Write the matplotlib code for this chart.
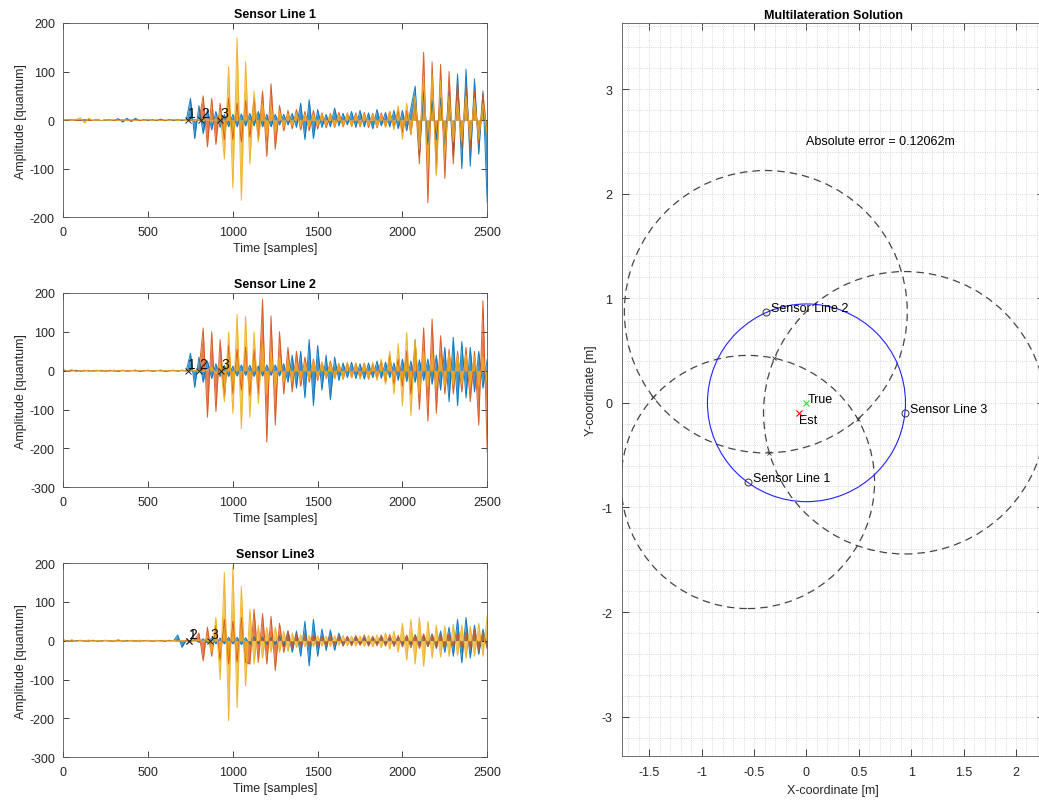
import numpy as np
import matplotlib
matplotlib.use('Agg')
import matplotlib.pyplot as plt
from matplotlib.patches import Circle

plt.rcParams['font.family'] = ['Liberation Sans', 'DejaVu Sans']
plt.rcParams['axes.unicode_minus'] = False

# sample positions of the traces (every 25 samples)
samples = np.arange(0, 2501, 25)

# Sensor Line 1 (blue, orange, yellow channels)
s1_blue = [0, 1, -1, 1, -1, 0, 1, -1, 1, -1,
           1, -1, 0, 3, -4, 4, -3, 4, -1, 1,
           -1, 1, -1, 2, -1, 1, -1, 1, -1, 0,
           45, -38, 30, -28, 22, -20, 18, -15, 12, -14,
           12, -14, 13, -12, 14, -12, 18, -14, 12, -14,
           12, -10, 12, -10, 14, -15, 35, -40, 42, -38,
           22, -15, 12, -14, 25, -12, 14, -10, 18, -15,
           20, -14, 15, -18, 22, -12, 16, -14, 20, -18,
           20, -22, 25, 70, -75, 60, -50, 40, -40, 45,
           -55, 60, -75, 95, -100, 105, -95, 85, -70, 60, -170]
s1_orange = [0, 0, 1, -1, 0, 1, -1, 0, 1, -1,
             0, 1, -1, 0, 1, -1, 0, 1, -1, 0,
             1, -1, 0, 1, -1, 0, 1, -1, 1, 0,
             -1, 1, 0, 50, -55, 45, -50, 35, -40, 45,
             -40, 35, -45, 40, -35, 45, -40, 60, -75, 75,
             -60, 30, -22, 20, -18, 22, -20, 18, -22, 20,
             -18, 15, -16, 14, -15, 16, -14, 15, -13, 15,
             -14, 16, -15, 14, -16, 15, -14, 18, -15, 20,
             -25, 20, -30, 50, -90, 140, -170, 120, -110, 115,
             -120, 100, -90, 80, -60, 70, -60, 60, -50, 55, -30]
s1_yellow = [0, 1, -1, 1, 5, -6, 4, -1, 1, -1,
             1, -1, 1, -1, 1, -1, 1, -1, 1, -1,
             1, -1, 1, -1, 1, -1, 1, -1, 1, -1,
             1, -1, 2, -2, 3, -4, 3, 15, -80, 110,
             -140, 170, -165, 120, -90, 60, -45, 35, -35, 30,
             -25, 18, -15, 14, -12, 15, -13, 12, -14, 12,
             -12, 13, -11, 12, -13, 11, -12, 13, -12, 11,
             -12, 13, -11, 12, -14, 12, -15, 18, -20, 30,
             -40, 35, -30, 50, -60, 90, -100, 95, -115, 80,
             -70, 50, -45, 40, -45, 50, -40, 45, -40, 35, -30]

# Sensor Line 2
s2_blue = [1, -1, 0, 1, -1, 0, 1, -1, 0, 1,
           -1, 0, 1, -2, 1, -1, 0, 1, -1, 0,
           1, -1, 0, 1, -1, 0, 1, -1, 1, 0,
           45, -43, 35, -30, 25, -20, 18, -15, 14, -15,
           12, -14, 15, -12, 14, -15, 12, -14, 15, -12,
           15, -14, 18, -30, 40, -45, 50, -70, 80, -90,
           65, -50, 40, -75, 35, -25, 20, -18, 22, -20,
           18, -22, 20, -18, 25, -20, 22, -18, 20, -25,
           30, -28, 25, -30, 28, -25, 30, -35, 40, -50,
           60, -80, 86, -90, 75, -70, 60, -55, 50, -45, 30]
s2_orange = [3, -2, 1, -1, 0, 1, -1, 0, 1, -1,
             0, 1, -1, 0, 1, -1, 0, 1, -1, 0,
             1, -1, 0, 1, -1, 0, 1, -1, 1, 0,
             -1, 1, 0, 110, -120, 100, -105, 80, -70, 65,
             -60, 55, -50, 60, -65, 55, -60, 183, -184, 141,
             -140, 100, -60, 60, -55, 50, -40, 35, -30, 30,
             -25, 22, -20, 25, -20, 18, -22, 20, -18, 20,
             -18, 20, -22, 18, -20, 25, -30, 40, -35, 30,
             -40, 50, -60, 80, -100, 110, -130, 133, -110, 90,
             -60, 55, -60, 50, -55, 60, -80, 50, -140, 180, -210]
s2_yellow = [2, -1, 3, -3, 1, -1, 1, -1, 1, -1,
             1, -1, 1, -1, 1, -1, 1, -1, 1, -1,
             1, -1, 1, -1, 1, -1, 1, -1, 1, -1,
             1, -1, 1, -2, 2, 8, -8, 20, -80, 100,
             -110, 145, -150, 140, -120, 100, -85, 70, -60, 50,
             -45, 35, -30, 28, -25, 22, -25, 20, -22, 25,
             -20, 22, -18, 20, -22, 18, -20, 22, -18, 20,
             -22, 18, -20, 22, -25, 30, -35, 50, -60, 70,
             -90, 99, -116, 80, -60, 50, -40, 45, -40, 35,
             -40, 45, -38, 40, -35, 42, -40, 38, -40, 35, -30]

# Sensor Line 3
s3_blue = [0, 1, -1, 0, 1, -1, 0, 1, -1, 0,
           1, -1, 0, 2, -1, 1, 0, -1, 1, 0,
           1, -1, 0, 1, -1, 1, 0, 15, -17, 2,
           -2, 3, -4, 5, -6, 7, -8, 7, -8, 9,
           -8, 9, -10, 8, -9, 10, -8, 9, -10, 8,
           -10, 12, -15, 25, -30, 25, -40, 50, -65, 55,
           -40, 30, -25, 28, -25, 20, -12, 10, -8, 10,
           -10, 8, -10, 9, -8, 10, -9, 8, -10, 9,
           -10, 12, -10, 15, -12, 14, -15, 18, -20, 25,
           -30, 35, -40, 55, -57, 60, -45, 40, -35, 30, -20]
s3_orange = [3, -2, 1, -1, 1, 0, -1, 1, 0, -1,
             1, 0, -1, 1, 0, -1, 1, 0, -1, 1,
             0, -1, 1, 0, -1, 1, 0, -1, 1, 0,
             -1, 2, 20, -52, 35, -40, 40, -50, 55, -60,
             50, -55, 60, -55, -60, 81, -56, 70, -60, 63,
             -77, 45, -30, 25, -20, 18, -15, 16, -14, 15,
             -14, 12, -13, 14, -12, 13, -14, 12, -13, 14,
             -12, 15, -14, 12, -13, 15, -14, 16, -15, 14,
             -16, 15, -18, 16, -20, 18, -15, 16, -14, 15,
             -16, 18, -15, 20, -18, 22, -20, 30, -25, 20, -18]
s3_yellow = [2, -2, 3, -2, 1, -1, 2, -1, 1, -1,
             1, -1, 1, -1, 1, -1, 1, -1, 1, -1,
             1, -1, 1, -1, 1, -1, 1, -1, 1, -1,
             1, -1, 2, -3, 10, -30, 60, -100, 176, -206,
             191, -172, 140, -116, 80, -60, 40, -45, 35, -30,
             35, -30, 25, -28, 20, -18, 15, -16, 14, -15,
             13, -14, 12, -15, 13, -12, 14, -13, 12, -14,
             13, -15, 14, -16, 15, -18, 20, -22, 25, -30,
             45, -50, 55, -60, 60, -66, 50, -45, 40, -42,
             38, -40, 42, -38, 40, -45, 38, -40, 45, -40, 65]

# picked onsets (samples) per sensor line
onsets = [[737, 812, 924], [733, 802, 930], [741, 741, 865]]
panel_titles = ['Sensor Line 1', 'Sensor Line 2', 'Sensor Line3']
panel_ylims = [(-200, 200), (-300, 200), (-300, 200)]
traces = [[s1_blue, s1_orange, s1_yellow],
          [s2_blue, s2_orange, s2_yellow],
          [s3_blue, s3_orange, s3_yellow]]
trace_colors = ['#0072BD', '#D95319', '#EDB120']

# multilateration
sensor_x = [-0.56, -0.388, 0.94]
sensor_y = [-0.757, 0.871, -0.095]
sensor_names = ['Sensor Line 1', 'Sensor Line 2', 'Sensor Line 3']
radii = [1.21, 1.35, 1.35]
array_radius = 0.945
true_pos = (0.0, 0.0)
est_pos = (-0.075, -0.094)
abs_error = 0.12062


def intersections(i, j):
    x0, y0, r0 = sensor_x[i], sensor_y[i], radii[i]
    x1, y1, r1 = sensor_x[j], sensor_y[j], radii[j]
    d = np.hypot(x1 - x0, y1 - y0)
    a = (r0 ** 2 - r1 ** 2 + d ** 2) / (2 * d)
    h = np.sqrt(max(r0 ** 2 - a ** 2, 0))
    ux, uy = (x1 - x0) / d, (y1 - y0) / d
    px, py = x0 + a * ux, y0 + a * uy
    return [(px - h * uy, py + h * ux), (px + h * uy, py - h * ux)]


fig = plt.figure(figsize=(10.39, 8.04), dpi=100)
gray = '#262626'
fs = 9

bottoms = [0.7285, 0.3927, 0.0568]
for k in range(3):
    ax = fig.add_axes([0.0609, bottoms[k], 0.408, 0.2417])
    for vals, col in zip(traces[k], trace_colors):
        ax.fill_between(samples, vals, 0, color=col, lw=0, alpha=0.75)
        ax.plot(samples, vals, color=col, lw=0.7, alpha=0.9)
    for n, s in enumerate(onsets[k]):
        ax.plot(s, 0, 'x', color='#222222', ms=4, mew=0.7)
        ax.text(s, 0, str(n + 1), fontsize=10, ha='left', va='bottom', color='#111111')
    ax.set_xlim(0, 2500)
    ax.set_ylim(*panel_ylims[k])
    ax.set_xticks([0, 500, 1000, 1500, 2000, 2500])
    ax.set_title(panel_titles[k], fontsize=fs, fontweight='bold', pad=4)
    ax.set_xlabel('Time [samples]', fontsize=fs, color=gray, labelpad=3)
    ax.set_ylabel('Amplitude [quantum]', fontsize=fs, color=gray, labelpad=2)
    ax.tick_params(direction='in', top=True, right=True, labelsize=fs,
                   colors=gray, length=4, width=0.6, pad=6)
    for sp in ax.spines.values():
        sp.set_color('#555555')
        sp.set_linewidth(0.6)

# right panel
ax = fig.add_axes([0.5984, 0.058, 0.4067, 0.912])
ax.set_xlim(-1.763, 2.27)
ax.set_ylim(-3.38, 3.63)
ax.set_xticks([-1.5, -1, -0.5, 0, 0.5, 1, 1.5, 2])
ax.set_xticklabels(['-1.5', '-1', '-0.5', '0', '0.5', '1', '1.5', '2'])
ax.set_yticks([-3, -2, -1, 0, 1, 2, 3])
ax.set_xticks(np.arange(-1.7, 2.3, 0.1), minor=True)
ax.set_yticks(np.arange(-3.2, 3.7, 0.2), minor=True)
ax.grid(which='both', color='#cccccc', linestyle=':', linewidth=0.6)
ax.set_axisbelow(True)
ax.tick_params(which='major', direction='in', top=True, right=True, labelsize=fs,
               colors=gray, length=5, width=0.6, pad=7)
ax.tick_params(which='minor', length=0)
for sp in ax.spines.values():
    sp.set_color('#555555')
    sp.set_linewidth(0.6)

for i in range(3):
    ax.add_patch(Circle((sensor_x[i], sensor_y[i]), radii[i], fill=False,
                        edgecolor='#454545', lw=0.9, linestyle=(0, (6, 4))))
ax.add_patch(Circle(true_pos, array_radius, fill=False, edgecolor='#2222ff', lw=0.8))

marked = intersections(0, 1) + [intersections(1, 2)[1], intersections(0, 2)[0]]
for px, py in marked:
    ax.plot(px, py, 'x', color='#333333', ms=3.5, mew=0.6)

for i in range(3):
    ax.plot(sensor_x[i], sensor_y[i], 'o', mfc='none', mec='#333333', ms=5, mew=0.7)
    ax.text(sensor_x[i] + 0.05, sensor_y[i] + 0.04, sensor_names[i], fontsize=fs,
            ha='left', va='center', color='k')

ax.plot(*true_pos, 'x', color='#33dd33', ms=4, mew=0.8)
ax.text(true_pos[0] + 0.01, true_pos[1] + 0.04, 'True', fontsize=fs, ha='left', va='center')
ax.plot(*est_pos, 'x', color='red', ms=4, mew=0.8)
ax.text(est_pos[0], est_pos[1] - 0.07, 'Est', fontsize=fs, ha='left', va='center')
ax.text(0, 2.5, 'Absolute error = %.5fm' % abs_error, fontsize=fs, ha='left', va='center')

ax.set_title('Multilateration Solution', fontsize=fs, fontweight='bold', pad=4)
ax.set_xlabel('X-coordinate [m]', fontsize=fs, color=gray, labelpad=4)
ax.set_ylabel('Y-coordinate [m]', fontsize=fs, color=gray, labelpad=3)

plt.savefig('out.png', dpi=100)
